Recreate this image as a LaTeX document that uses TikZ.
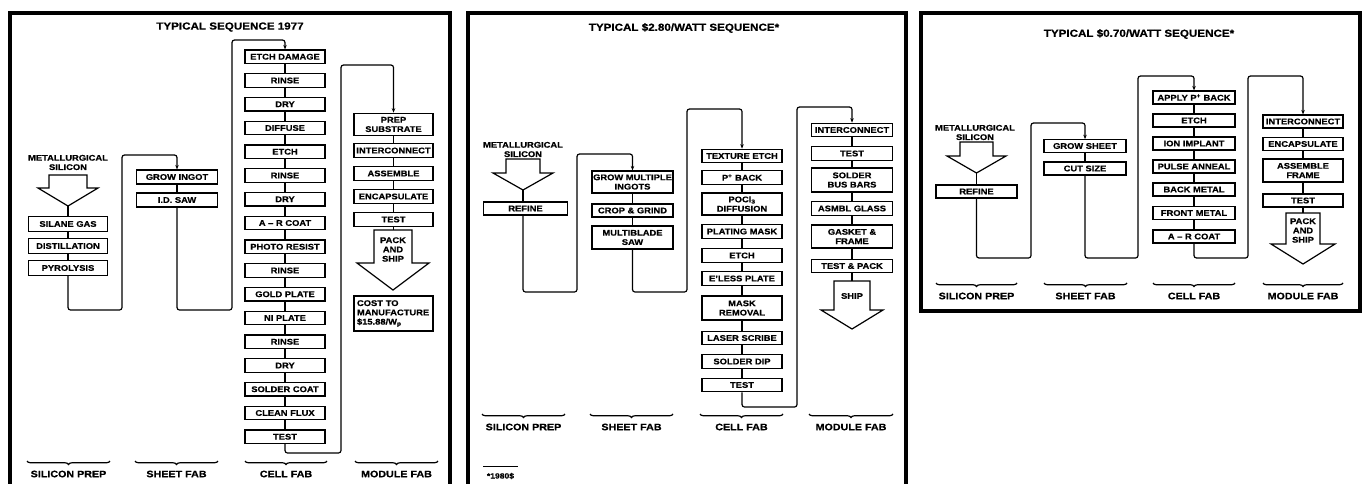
\documentclass[tikz,border=0pt]{standalone}
\usepackage{fontspec}
\setmainfont{Liberation Sans}[FakeStretch=1.14,BoldFeatures={FakeBold=0.6}]
\usetikzlibrary{arrows.meta,decorations.pathreplacing}
\newcommand\mybox{\fontsize{8.2}{9.3}\selectfont\bfseries}
\newcommand\mylbl{\fontsize{9.4}{10}\selectfont\bfseries}
\newcommand\myttl{\fontsize{10.2}{12}\selectfont\bfseries}
\tikzset{
  panel/.style={line width=3.4pt},
  box/.style={draw, line width=1.2pt, inner sep=0pt, minimum width=80pt, minimum height=13.5pt, font=\mybox, align=center},
  flow/.style={line width=1.2pt, rounded corners=2.5pt},
  arr/.style={-{Stealth[length=4.5pt,width=3.5pt]}},
  bigarrow/.style={draw, line width=1.2pt, line join=miter},
  brc/.style={decorate, decoration={brace, amplitude=3.5pt}, line width=1.2pt},
  lbl/.style={font=\mylbl, inner sep=0pt},
  ttl/.style={font=\myttl, inner sep=0pt},
  txt/.style={font=\mybox, inner sep=0pt, align=center},
}
\begin{document}
\begin{tikzpicture}[x=1pt,y=-1pt]
\useasboundingbox (0,0) rectangle (1367,483);
\fill[white] (0,0) rectangle (1367,483);
% ================= PANEL 1 =================
\draw[panel] (10,13) rectangle (450,500);
\node[ttl] (t1) at (230,27) {TYPICAL SEQUENCE 1977};
\node[txt] (met1) at (68,162.5) {METALLURGICAL\\SILICON};
\draw[bigarrow] (49,175) -- (87,175) -- (87,188) -- (98,188) -- (68,206) -- (38,188) -- (49,188) -- cycle;
\coordinate (a1tip) at (68,206);
\node[box, minimum width=79pt, minimum height=15pt] (s1) at (68,224) {SILANE GAS};
\node[box, minimum width=79pt, minimum height=15pt] (s2) at (68,246) {DISTILLATION};
\node[box, minimum width=79pt, minimum height=15pt] (s3) at (68,268) {PYROLYSIS};
\draw[flow] (a1tip) -- (s1.north);
\draw[flow] (s1.south) -- (s2.north);
\draw[flow] (s2.south) -- (s3.north);
\node[box, minimum width=81pt, minimum height=14pt] (g1) at (177,177) {GROW INGOT};
\node[box, minimum width=81pt, minimum height=14pt] (g2) at (177,200) {I.D. SAW};
\draw[flow] (g1.south) -- (g2.north);
\draw[flow,arr] (s3.south) |- (122,310) -- (122,155) -| (g1.north);
% cell fab
\foreach \t [count=\i] in {ETCH DAMAGE,RINSE,DRY,DIFFUSE,ETCH,RINSE,DRY,A -- R COAT,PHOTO RESIST,RINSE,GOLD PLATE,NI PLATE,RINSE,DRY,SOLDER COAT,CLEAN FLUX,TEST}{
  \node[box] (c\i) at (285,{56.75+23.75*(\i-1)}) {\t};
}
\foreach \i [evaluate=\i as \j using int(\i+1)] in {1,...,16}{
  \draw[flow] (c\i.south) -- (c\j.north);
}
\draw[flow,arr] (g2.south) |- (232,310) -- (232,40) -| (c1.north);
% module fab
\node[box, minimum width=79pt, minimum height=22.5pt] (m1) at (393.5,124.5) {PREP\\SUBSTRATE};
\node[box, minimum width=79pt] (m2) at (393.5,150.5) {INTERCONNECT};
\node[box, minimum width=79pt] (m3) at (393.5,173.5) {ASSEMBLE};
\node[box, minimum width=79pt] (m4) at (393.5,196.5) {ENCAPSULATE};
\node[box, minimum width=79pt] (m5) at (393.5,219.5) {TEST};
\draw[flow] (m1.south) -- (m2.north);
\draw[flow] (m2.south) -- (m3.north);
\draw[flow] (m3.south) -- (m4.north);
\draw[flow] (m4.south) -- (m5.north);
\draw[flow,arr] (c17.south) |- (341,453) -- (341,65) -| (m1.north);
\draw[bigarrow] (374,230) -- (412,230) -- (412,263) -- (429,263) -- (393,290) -- (357,263) -- (374,263) -- cycle;
\coordinate (pk1top) at (393.5,230);
\draw[flow] (m5.south) -- (pk1top);
\node[txt] (pk1) at (393,249.5) {PACK\\AND\\SHIP};
\node[box, minimum width=79pt, minimum height=35pt, text width=73pt, align=left] (cost) at (393.5,313.5) {COST TO\\MANUFACTURE\\\$15.88/W\textsubscript{p}};
% brackets
\draw[brc] (110,461) -- (27,461);
\draw[brc] (218,461) -- (135,461);
\draw[brc] (327,461) -- (245,461);
\draw[brc] (438,461) -- (355,461);
\node[lbl] (l11) at (68.5,474) {SILICON PREP};
\node[lbl] (l12) at (176.5,474) {SHEET FAB};
\node[lbl] (l13) at (286,474) {CELL FAB};
\node[lbl] (l14) at (396.5,474) {MODULE FAB};
% ================= PANEL 2 =================
\draw[panel] (468,13) rectangle (906,500);
\node[ttl] (t2) at (684,28) {TYPICAL \$2.80/WATT SEQUENCE*};
\node[txt] (met2) at (523,149.5) {METALLURGICAL\\SILICON};
\draw[bigarrow] (506,159) -- (540,159) -- (540,173) -- (553,173) -- (523,190) -- (493,173) -- (506,173) -- cycle;
\coordinate (a2tip) at (523,190);
\node[box, minimum width=84pt, minimum height=13pt] (r2) at (525.5,208.5) {REFINE};
\draw[flow] (a2tip) -- (r2.north -| a2tip);
\node[box, minimum width=81pt, minimum height=22pt] (gm) at (632.5,182) {GROW MULTIPLE\\INGOTS};
\node[box, minimum width=81pt, minimum height=13pt] (cg) at (632.5,210.5) {CROP \& GRIND};
\node[box, minimum width=81pt, minimum height=23pt] (ms) at (632.5,237.5) {MULTIBLADE\\SAW};
\draw[flow] (gm.south) -- (cg.north);
\draw[flow] (cg.south) -- (ms.north);
\draw[flow,arr] (r2.south -| a2tip) |- (577,292) -- (577,154) -| (gm.north);
% cell fab
\node[box] (d1) at (742,156) {TEXTURE ETCH};
\node[box] (d2) at (742,177.5) {P\textsuperscript{+} BACK};
\node[box, minimum height=22pt] (d3) at (742,204) {POCl\textsubscript{3}\\DIFFUSION};
\node[box] (d4) at (742,231.5) {PLATING MASK};
\node[box] (d5) at (742,255.5) {ETCH};
\node[box] (d6) at (742,278.5) {E'LESS PLATE};
\node[box, minimum height=24pt] (d7) at (742,308) {MASK\\REMOVAL};
\node[box] (d8) at (742,338) {LASER SCRIBE};
\node[box] (d9) at (742,361.5) {SOLDER DIP};
\node[box] (d10) at (742,385) {TEST};
\foreach \i [evaluate=\i as \j using int(\i+1)] in {1,...,9}{
  \draw[flow] (d\i.south) -- (d\j.north);
}
\draw[flow,arr] (ms.south) |- (687,292) -- (687,109) -| (d1.north);
% module fab
\node[box, minimum width=81pt] (e1) at (852,130) {INTERCONNECT};
\node[box, minimum width=81pt] (e2) at (852,153.5) {TEST};
\node[box, minimum width=81pt, minimum height=24pt] (e3) at (852,180) {SOLDER\\BUS BARS};
\node[box, minimum width=81pt] (e4) at (852,208.5) {ASMBL GLASS};
\node[box, minimum width=81pt, minimum height=23pt] (e5) at (852,236.5) {GASKET \&\\FRAME};
\node[box, minimum width=81pt] (e6) at (852,266) {TEST \& PACK};
\foreach \i [evaluate=\i as \j using int(\i+1)] in {1,...,5}{
  \draw[flow] (e\i.south) -- (e\j.north);
}
\draw[flow,arr] (d10.south) |- (797,407) -- (797,107) -| (e1.north);
\draw[bigarrow] (834,281) -- (870,281) -- (870,310) -- (883,310) -- (852,329) -- (821,310) -- (834,310) -- cycle;
\coordinate (sh2top) at (852,281);
\draw[flow] (e6.south) -- (sh2top);
\node[txt] (sh2) at (852,296) {SHIP};
% brackets
\draw[brc] (565,414) -- (482,414);
\draw[brc] (673,414) -- (590,414);
\draw[brc] (783,414) -- (700,414);
\draw[brc] (893,414) -- (809,414);
\node[lbl] (l21) at (523.5,427) {SILICON PREP};
\node[lbl] (l22) at (631.5,427) {SHEET FAB};
\node[lbl] (l23) at (741.5,427) {CELL FAB};
\node[lbl] (l24) at (851,427) {MODULE FAB};
\draw[line width=0.8pt] (483,466) -- (518,466);
\node[font=\fontsize{7.5}{8}\selectfont\bfseries, inner sep=0pt] (fn) at (500.5,476) {*1980\$};
% ================= PANEL 3 =================
\draw[panel] (921,13) rectangle (1360,311);
\node[ttl] (t3) at (1139,34) {TYPICAL \$0.70/WATT SEQUENCE*};
\node[txt] (met3) at (975,132.5) {METALLURGICAL\\SILICON};
\draw[bigarrow] (960,142) -- (993,142) -- (993,156) -- (1006,156) -- (976.5,173) -- (947,156) -- (960,156) -- cycle;
\coordinate (a3tip) at (976.5,173);
\node[box, minimum width=81pt, minimum height=13pt] (r3) at (976.5,191.5) {REFINE};
\draw[flow] (a3tip) -- (r3.north);
\node[box, minimum width=82pt, minimum height=12.5pt] (gs) at (1085,146) {GROW SHEET};
\node[box, minimum width=82pt, minimum height=13pt] (cs) at (1085,168.5) {CUT SIZE};
\draw[flow] (gs.south) -- (cs.north);
\draw[flow,arr] (r3.south) |- (1031,258) -- (1031,123) -| (gs.north);
% cell fab
\foreach \t/\y [count=\i] in {APPLY P\textsuperscript{+} BACK/97.5,ETCH/120.5,ION IMPLANT/143.5,PULSE ANNEAL/166.5,BACK METAL/189.5,FRONT METAL/213,A -- R COAT/236.5}{
  \node[box, minimum width=82pt, minimum height=13pt] (f\i) at (1194,\y) {\t};
}
\foreach \i [evaluate=\i as \j using int(\i+1)] in {1,...,6}{
  \draw[flow] (f\i.south) -- (f\j.north);
}
\draw[flow,arr] (cs.south) |- (1138,258) -- (1138,76) -| (f1.north);
% module fab
\node[box, minimum height=13pt] (h1) at (1303,121.5) {INTERCONNECT};
\node[box, minimum height=13pt] (h2) at (1303,144) {ENCAPSULATE};
\node[box, minimum height=23pt] (h3) at (1303,170.5) {ASSEMBLE\\FRAME};
\node[box, minimum height=13pt] (h4) at (1303,200.5) {TEST};
\foreach \i [evaluate=\i as \j using int(\i+1)] in {1,...,3}{
  \draw[flow] (h\i.south) -- (h\j.north);
}
\draw[flow,arr] (f7.south) |- (1248,258) -- (1248,76) -| (h1.north);
\draw[bigarrow] (1286,213) -- (1320,213) -- (1320,244) -- (1335,244) -- (1303,264) -- (1271,244) -- (1286,244) -- cycle;
\coordinate (pk3top) at (1303,213);
\draw[flow] (h4.south) -- (pk3top);
\node[txt] (pk3) at (1303,230.5) {PACK\\AND\\SHIP};
% brackets
\draw[brc] (1017,283) -- (936,283);
\draw[brc] (1127,283) -- (1044,283);
\draw[brc] (1235,283) -- (1153,283);
\draw[brc] (1343,283) -- (1263,283);
\node[lbl] (l31) at (976.5,296) {SILICON PREP};
\node[lbl] (l32) at (1085.5,296) {SHEET FAB};
\node[lbl] (l33) at (1194,296) {CELL FAB};
\node[lbl] (l34) at (1303,296) {MODULE FAB};
\end{tikzpicture}
\end{document}
